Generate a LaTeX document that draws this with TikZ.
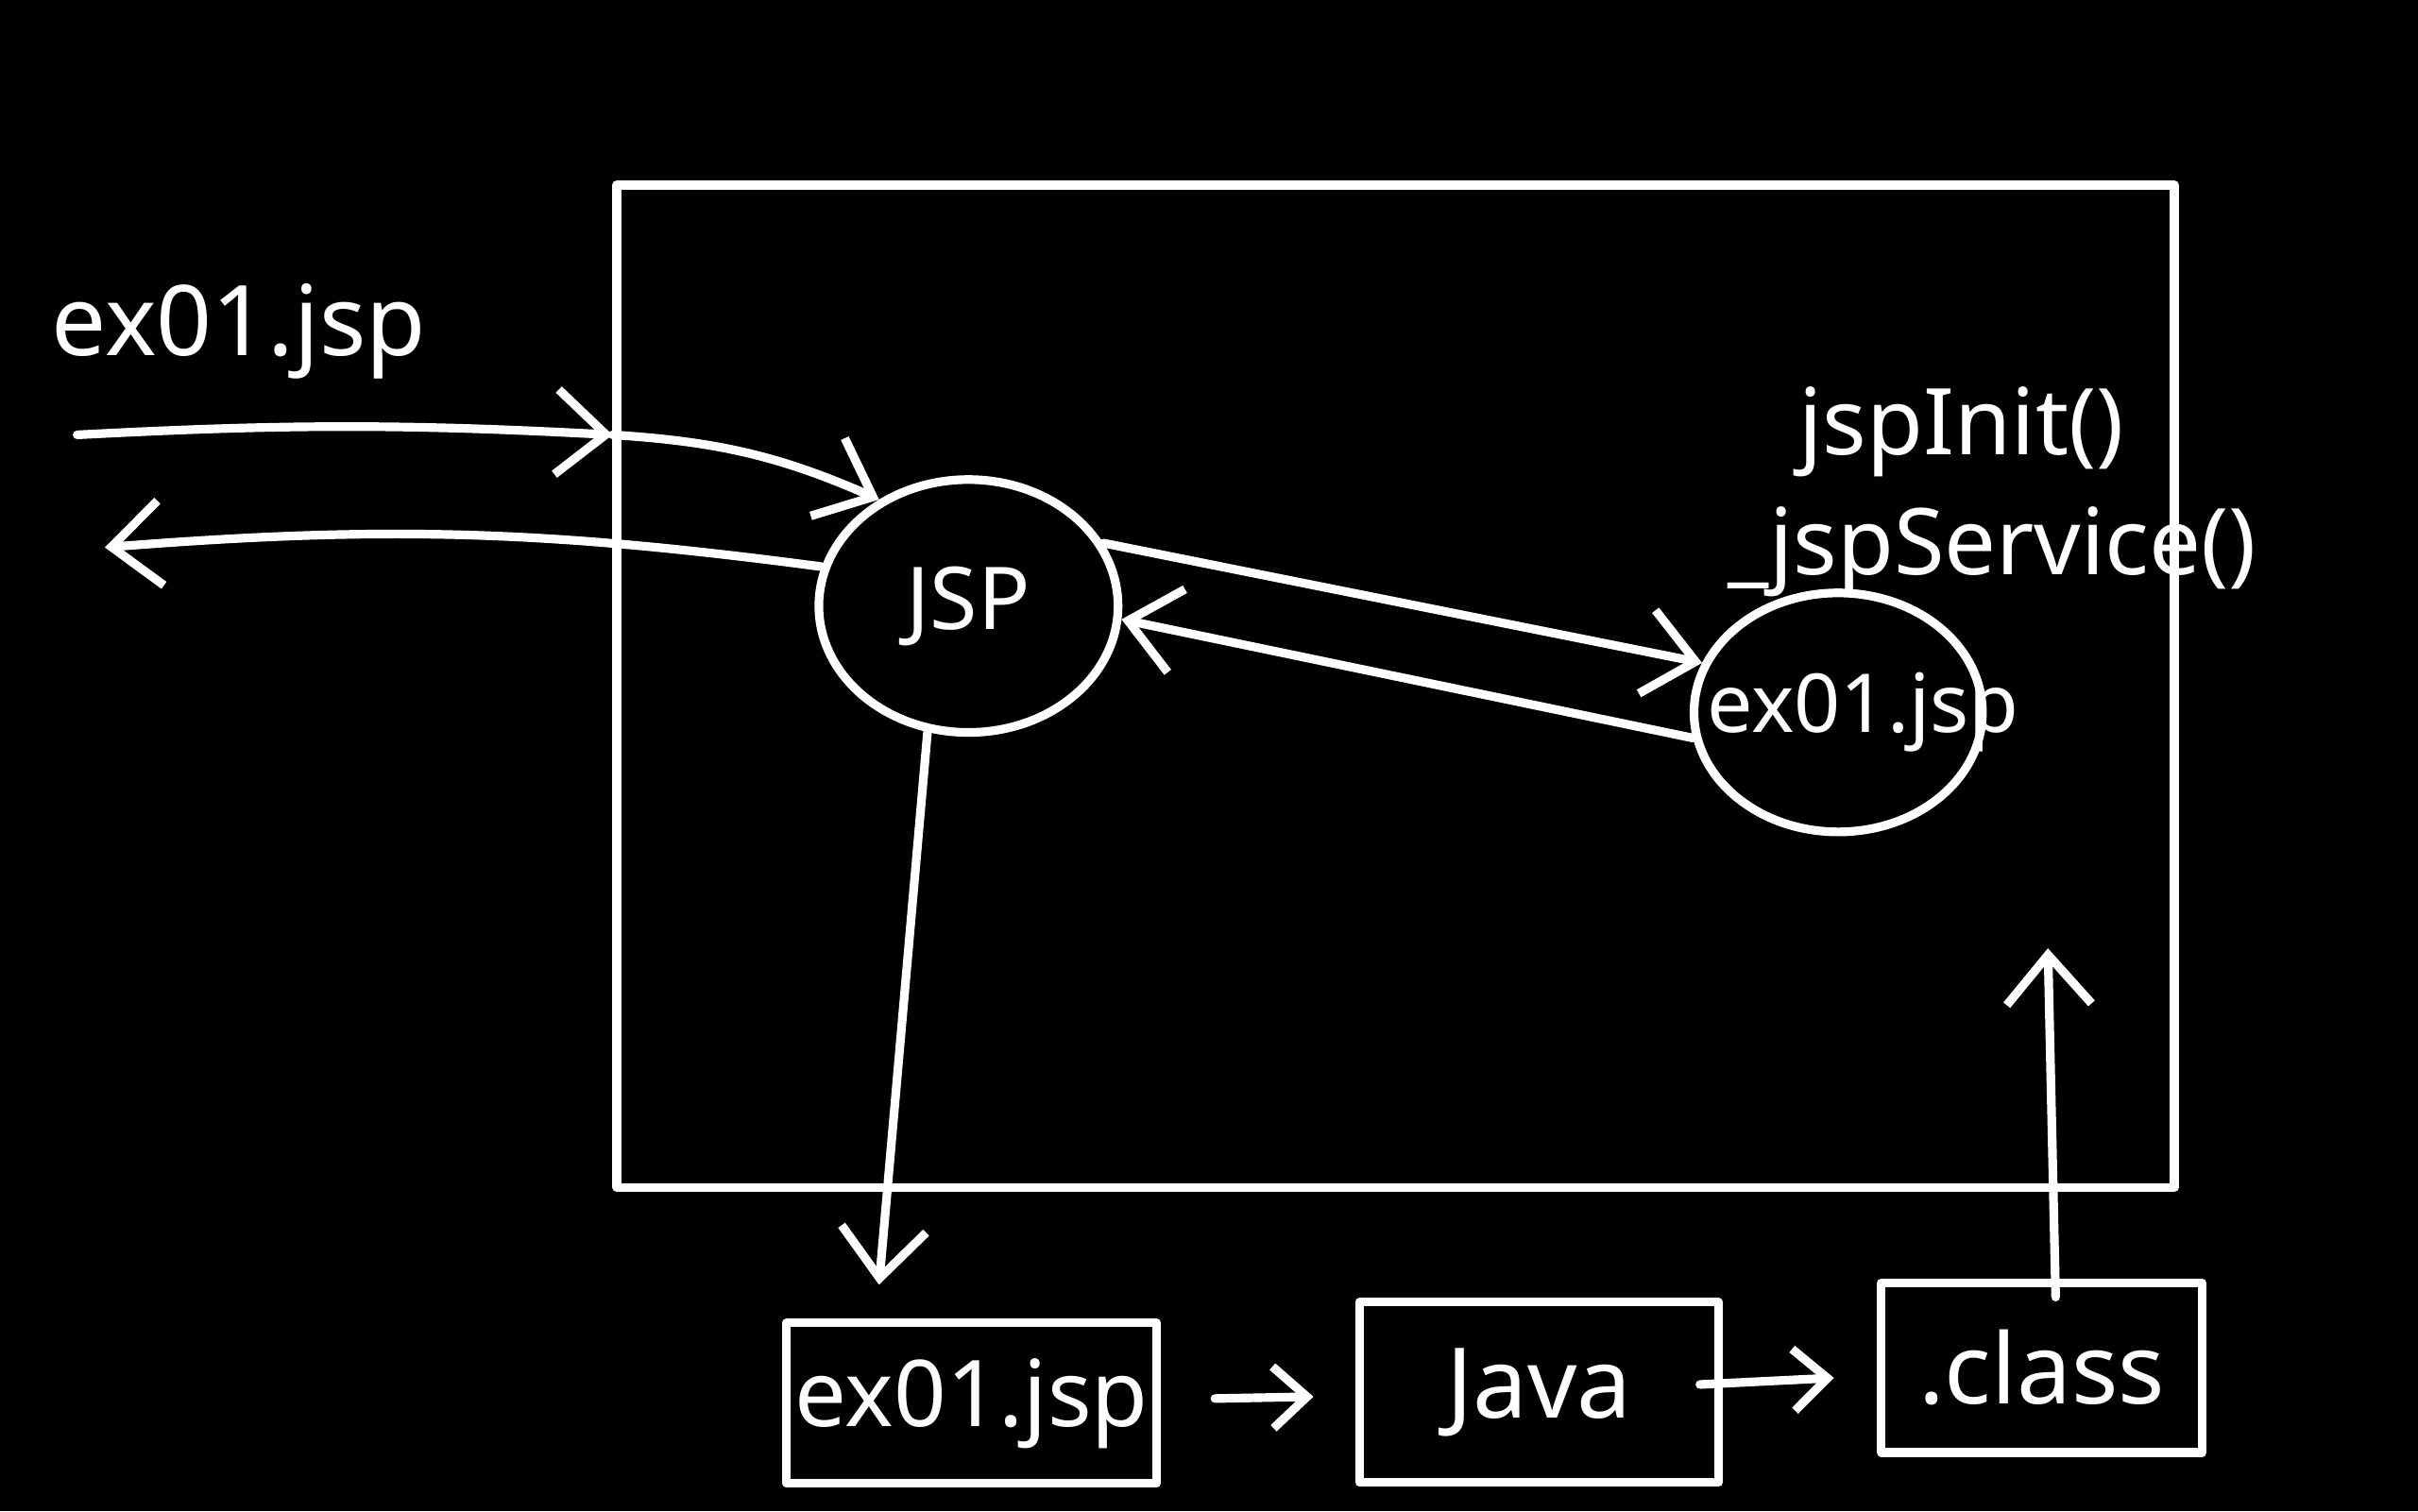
\documentclass[tikz,border=0pt]{standalone}
\usepackage{fontspec}
\setmainfont{Noto Sans}
\usetikzlibrary{positioning}
\usetikzlibrary{arrows.meta}
\usetikzlibrary{shapes.geometric}

\tikzset{
    chalk/.style={draw=white, line width=1.6pt, line cap=round, line join=round},
    blob/.style={chalk, ellipse, inner sep=0pt, text=white},
    filebox/.style={chalk, rectangle, inner sep=0pt, text=white},
    flow/.style={chalk, -{Straight Barb[length=3.2mm, width=5.5mm, line width=1.6pt]}},
    smallflow/.style={chalk, -{Straight Barb[length=2.2mm, width=4mm, line width=1.6pt]}},
    txt/.style={text=white, inner sep=0pt},
}

\begin{document}
\begin{tikzpicture}
    \fill[black] (0, 0) rectangle (15.68, -9.8);
    \useasboundingbox (0, 0) rectangle (15.68, -9.8);

    % container
    \node[filebox, minimum width=10.1cm, minimum height=6.5cm] (server) at (9.05, -4.45) {};

    % circles
    \node[blob, minimum width=1.94cm, minimum height=1.64cm, font=\fontsize{16}{18}\selectfont] (jsp) at (6.28, -3.93) {JSP};
    \node[blob, minimum width=1.87cm, minimum height=1.55cm] (exo) at (11.92, -4.62) {};
    \node[txt, font=\fontsize{15}{17}\selectfont] (exolabel) at (12.08, -4.62) {ex01.jsp};

    % method names
    \node[txt, font=\fontsize{17}{20}\selectfont] (init) at (12.72, -2.80) {jspInit()};
    \node[txt, font=\fontsize{17}{20}\selectfont] (service) at (12.92, -3.58) {\_jspService()};

    % request label
    \node[txt, font=\fontsize{18}{20}\selectfont] (req) at (1.55, -2.15) {ex01.jsp};

    % files
    \node[filebox, minimum width=2.40cm, minimum height=1.04cm, font=\fontsize{17}{20}\selectfont] (src) at (6.30, -9.10) {ex01.jsp};
    \node[filebox, minimum width=2.33cm, minimum height=1.17cm, font=\fontsize{18}{20}\selectfont] (java) at (9.98, -9.03) {Java};
    \node[filebox, minimum width=2.08cm, minimum height=1.10cm, font=\fontsize{18}{20}\selectfont] (cls) at (13.24, -8.87) {.class};

    \coordinate (client) at (0.50, -2.82);
    \coordinate (back) at (0.68, -3.55);
    \coordinate (gate) at (server.west |- client);
    \coordinate (load) at (13.28, -6.15);

    % request / response
    \draw[flow] (client) to[bend left=3] (gate);
    \draw[flow] (gate) to[bend left=10] (jsp.130);
    \draw[flow] (jsp.165) to[bend right=6] (back);

    % jsp <-> servlet
    \draw[flow] (jsp.25) -- (exo.160);
    \draw[flow] (exo.190) -- (jsp.-5);

    % translation
    \draw[flow] (jsp.-108) -- ([xshift=-0.6cm, yshift=0.22cm]src.north);
    \draw[smallflow, shorten <=0.35cm, shorten >=0.27cm] (src) -- (java);
    \draw[smallflow, shorten <=-0.15cm, shorten >=0.28cm] (java) -- (cls);
    \draw[flow] ([xshift=0.09cm, yshift=-0.12cm]cls.north) -- (load);
\end{tikzpicture}
\end{document}
